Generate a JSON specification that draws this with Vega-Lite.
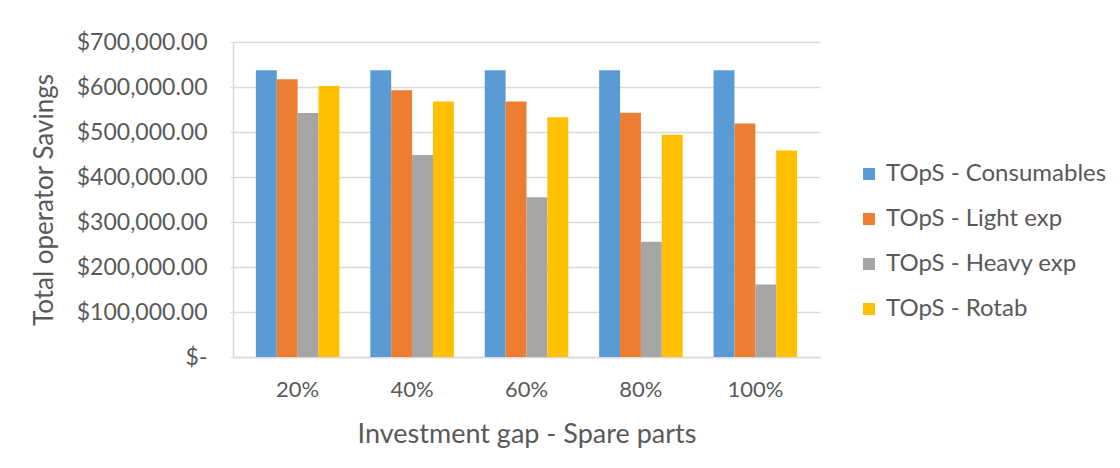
{
  "$schema": "https://vega.github.io/schema/vega-lite/v6.json",
  "width": 587,
  "height": 315,
  "autosize": {"type": "none"},
  "padding": {"left": 233, "top": 42, "right": 300, "bottom": 111},
  "background": "white",
  "config": {
    "font": "Lato",
    "view": {"stroke": null},
    "axis": {"labelColor": "#595959", "titleColor": "#595959", "labelFont": "Lato", "titleFont": "Lato", "titleFontWeight": "normal"},
    "legend": {"labelColor": "#595959", "labelFont": "Lato"}
  },
  "data": {
    "values": [
      {"gap": "20%", "series": "TOpS - Consumables", "value": 637000},
      {"gap": "20%", "series": "TOpS - Light exp", "value": 617000},
      {"gap": "20%", "series": "TOpS - Heavy exp", "value": 542000},
      {"gap": "20%", "series": "TOpS - Rotab", "value": 602000},
      {"gap": "40%", "series": "TOpS - Consumables", "value": 637000},
      {"gap": "40%", "series": "TOpS - Light exp", "value": 593000},
      {"gap": "40%", "series": "TOpS - Heavy exp", "value": 449000},
      {"gap": "40%", "series": "TOpS - Rotab", "value": 568000},
      {"gap": "60%", "series": "TOpS - Consumables", "value": 637000},
      {"gap": "60%", "series": "TOpS - Light exp", "value": 568000},
      {"gap": "60%", "series": "TOpS - Heavy exp", "value": 355000},
      {"gap": "60%", "series": "TOpS - Rotab", "value": 533000},
      {"gap": "80%", "series": "TOpS - Consumables", "value": 637000},
      {"gap": "80%", "series": "TOpS - Light exp", "value": 543000},
      {"gap": "80%", "series": "TOpS - Heavy exp", "value": 256000},
      {"gap": "80%", "series": "TOpS - Rotab", "value": 494000},
      {"gap": "100%", "series": "TOpS - Consumables", "value": 637000},
      {"gap": "100%", "series": "TOpS - Light exp", "value": 519000},
      {"gap": "100%", "series": "TOpS - Heavy exp", "value": 161000},
      {"gap": "100%", "series": "TOpS - Rotab", "value": 459000}
    ]
  },
  "mark": {"type": "bar"},
  "encoding": {
    "x": {
      "field": "gap", "type": "nominal",
      "sort": ["20%", "40%", "60%", "80%", "100%"],
      "scale": {"paddingInner": 0.27, "paddingOuter": 0.2},
      "axis": {
        "title": "Investment gap - Spare parts",
        "labelAngle": 0, "labelFontSize": 22, "titleFontSize": 27,
        "labelPadding": 22, "titlePadding": 21,
        "ticks": false, "domainColor": "#d9d9d9", "domainWidth": 1.5
      }
    },
    "xOffset": {
      "field": "series", "type": "nominal",
      "sort": ["TOpS - Consumables", "TOpS - Light exp", "TOpS - Heavy exp", "TOpS - Rotab"]
    },
    "y": {
      "field": "value", "type": "quantitative",
      "scale": {"domain": [0, 700000]},
      "axis": {
        "title": "Total operator Savings",
        "values": [0, 100000, 200000, 300000, 400000, 500000, 600000, 700000],
        "labelExpr": "datum.value == 0 ? '$-\u00a0\u00a0' : '$' + format(datum.value, ',.2f')",
        "labelFontSize": 23, "titleFontSize": 26,
        "labelPadding": 23, "titlePadding": 19,
        "tickSize": 3, "tickColor": "#d9d9d9",
        "domainColor": "#d9d9d9", "domainWidth": 1.5,
        "gridColor": "#d9d9d9", "gridWidth": 1.5
      }
    },
    "color": {
      "field": "series", "type": "nominal",
      "sort": ["TOpS - Consumables", "TOpS - Light exp", "TOpS - Heavy exp", "TOpS - Rotab"],
      "scale": {
        "domain": ["TOpS - Consumables", "TOpS - Light exp", "TOpS - Heavy exp", "TOpS - Rotab"],
        "range": ["#5B9BD5", "#ED7D31", "#A5A5A5", "#FFC000"]
      },
      "legend": {
        "title": null, "orient": "none", "legendX": 624, "legendY": 120,
        "symbolType": "square", "symbolSize": 144, "symbolStrokeWidth": 0,
        "labelFontSize": 24, "labelLimit": 300, "rowPadding": 21, "symbolOffset": 0, "labelOffset": 5
      }
    }
  }
}
